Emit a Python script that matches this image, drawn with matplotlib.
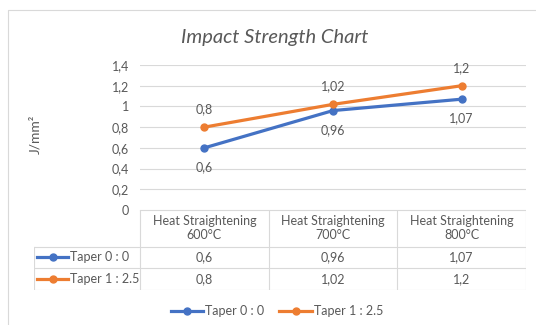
import matplotlib
matplotlib.use("Agg")
import matplotlib.pyplot as plt
from matplotlib.lines import Line2D

# data
categories = ["Heat Straightening\n600°C", "Heat Straightening\n700°C", "Heat Straightening\n800°C"]
series_names = ["Taper 0 : 0", "Taper 1 : 2.5"]
taper_0 = [0.6, 0.96, 1.07]
taper_1 = [0.8, 1.02, 1.2]
y_ticks = [0, 0.2, 0.4, 0.6, 0.8, 1.0, 1.2, 1.4]

colors = ["#4472C4", "#ED7D31"]
grid_c = "#d9d9d9"
text_c = "#595959"
W, H = 536, 325

plt.rcParams['font.family'] = ['Lato', 'DejaVu Sans']
plt.rcParams['font.size'] = 9


def fmt(v):
    s = ("%g" % v).replace('.', ',')
    return s


def px(x, y):
    return x / W, 1 - y / H


fig = plt.figure(figsize=(W / 100, H / 100), dpi=100)

# chart border (only top and left visible)
fig.add_artist(Line2D([8 / W, 8 / W, 1], [0, 1 - 10 / H, 1 - 10 / H],
                      transform=fig.transFigure, color=grid_c, lw=0.8))

# title
tx, ty = px(275, 37)
fig.text(tx, ty, "Impact Strength Chart", ha="center", va="center",
         fontsize=14.5, style="italic", color=text_c)

# y label
lx, ly = px(35, 134)
fig.text(lx, ly, "J/mm²", rotation=90, ha="center", va="center",
         fontsize=10, color=text_c)

# plot area
left, right, top, bottom = 140, 526, 65, 210
ax = fig.add_axes([left / W, 1 - bottom / H, (right - left) / W, (bottom - top) / H])
ax.set_xlim(0, len(categories))
ax.set_ylim(0, 1.4)
ax.set_yticks(y_ticks)
ax.set_yticklabels([fmt(v) for v in y_ticks], color=text_c)
ax.set_xticks([])
ax.tick_params(axis="y", length=0, pad=8)
for s in ax.spines.values():
    s.set_visible(False)
ax.grid(axis="y", color=grid_c, lw=0.8)
ax.set_axisbelow(True)

xs = [i + 0.5 for i in range(len(categories))]
all_series = [taper_0, taper_1]
for vals, c, name, off in zip(all_series, colors, series_names, [-14, 13]):
    ax.plot(xs, vals, color=c, lw=2.3, marker="o", ms=5, label=name,
            solid_capstyle="round", clip_on=False)
    for x, v in zip(xs, vals):
        ax.annotate(fmt(v), (x, v), xytext=(0, off), textcoords="offset points",
                    ha="center", va="center", color=text_c)

# data table
t_left, t_top, t_head, t_row1, t_bot = 34, 210, 246.5, 268, 289.5
tax = fig.add_axes([t_left / W, 1 - t_bot / H, (right - t_left) / W, (t_bot - t_top) / H])
tax.set_xlim(t_left, right)
tax.set_ylim(t_bot, t_top)
tax.axis("off")
col_w = (right - left) / len(categories)
edges = [left + i * col_w for i in range(len(categories) + 1)]
lw_t = 0.8
tax.plot([left, right], [t_top, t_top], color=grid_c, lw=lw_t)
for y in [t_head, t_row1, t_bot]:
    tax.plot([t_left, right], [y, y], color=grid_c, lw=lw_t)
for x in edges:
    tax.plot([x, x], [t_top, t_bot], color=grid_c, lw=lw_t)
tax.plot([t_left, t_left], [t_head, t_bot], color=grid_c, lw=lw_t)

for i, cat in enumerate(categories):
    cx = (edges[i] + edges[i + 1]) / 2
    tax.text(cx, (t_top + t_head) / 2, cat, ha="center", va="center",
             color=text_c, linespacing=1.2)

row_ys = [(t_head + t_row1) / 2, (t_row1 + t_bot) / 2]
for vals, c, name, ry in zip(all_series, colors, series_names, row_ys):
    tax.plot([37, 68], [ry, ry], color=c, lw=2.3)
    tax.plot([52.5], [ry], color=c, marker="o", ms=5)
    tax.text(70, ry, name, ha="left", va="center", color=text_c)
    for i, v in enumerate(vals):
        cx = (edges[i] + edges[i + 1]) / 2
        tax.text(cx, ry, fmt(v), ha="center", va="center", color=text_c)

# legend
handles = [Line2D([], [], color=c, lw=2.3, marker="o", ms=5) for c in colors]
gx, gy = px(277, 311)
leg = fig.legend(handles, series_names, loc="center", bbox_to_anchor=(gx, gy),
                 ncol=2, frameon=False, handlelength=2.6, handletextpad=0.15,
                 columnspacing=1.2)
for t in leg.get_texts():
    t.set_color(text_c)

fig.savefig("out.png", dpi=100)
